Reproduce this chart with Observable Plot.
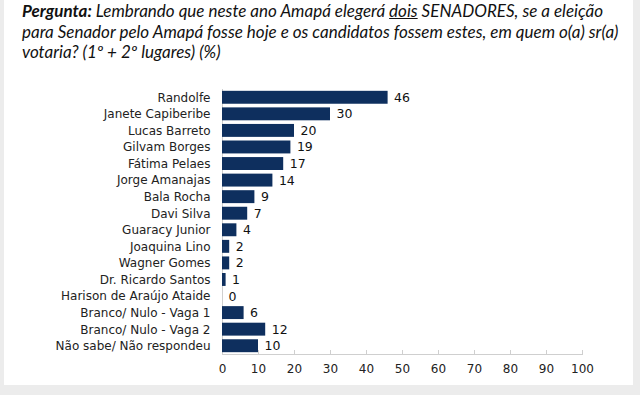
<!DOCTYPE html>
<html>
<head>
<meta charset="utf-8">
<script src="https://cdn.jsdelivr.net/npm/d3@7"></script>
<script src="https://cdn.jsdelivr.net/npm/@observablehq/plot@0.6"></script>
<style>
  html, body { margin: 0; padding: 0; background: #ececec; }
  #frame { position: absolute; left: 4px; top: 0; width: 629px; height: 385px; background: #fff; }
  #title { position: absolute; left: 18px; top: 1px; width: 620px; white-space: nowrap; font-family: Lato, "Open Sans", sans-serif; font-style: italic; font-size: 17px; line-height: 20.5px; color: #111; }
  #title b { font-weight: bold; }
  #title u { text-decoration: underline; }
  #chart { position: absolute; left: 0; top: 72px; }
</style>
</head>
<body>
<div id="frame">
  <div id="title"><b>Pergunta:</b> Lembrando que neste ano Amapá elegerá <u>dois</u> SENADORES, se a eleição<br>para Senador pelo Amapá fosse hoje e os candidatos fossem estes, em quem o(a) sr(a)<br>votaria? (1º + 2º lugares) (%)</div>
  <div id="chart"></div>
</div>
<script>
const candidates = ["Randolfe", "Janete Capiberibe", "Lucas Barreto", "Gilvam Borges", "Fátima Pelaes", "Jorge Amanajas", "Bala Rocha", "Davi Silva", "Guaracy Junior", "Joaquina Lino", "Wagner Gomes", "Dr. Ricardo Santos", "Harison de Araújo Ataide", "Branco/ Nulo - Vaga 1", "Branco/ Nulo - Vaga 2", "Não sabe/ Não respondeu"];
const values = [46, 30, 20, 19, 17, 14, 9, 7, 4, 2, 2, 1, 0, 6, 12, 10];
const xTicks = [0, 10, 20, 30, 40, 50, 60, 70, 80, 90, 100];

const data = candidates.map((c, i) => ({name: c, value: values[i]}));

const chart = Plot.plot({
  width: 629,
  height: 312,
  marginTop: 17,
  marginBottom: 30,
  marginLeft: 218,
  marginRight: 51,
  style: {fontFamily: "DejaVu Sans, Verdana, sans-serif", fontSize: "12px", color: "#222", background: "transparent"},
  x: {domain: [0, 100]},
  y: {domain: candidates, paddingInner: 0.22, paddingOuter: 0.11, round: false},
  marks: [
    Plot.frame({anchor: "bottom", stroke: "#cfcfcf"}),
    Plot.frame({anchor: "left", stroke: "#cfcfcf"}),
    Plot.axisX({ticks: xTicks, tickSize: -4, stroke: "#cfcfcf", tickPadding: 14, label: null, fill: "#222", fontSize: "12px"}),
    Plot.axisY({tickSize: 0, tickPadding: 12, label: null, fill: "#222", fontSize: "12px"}),
    Plot.barX(data, {x: "value", y: "name", fill: "#0e2f5e"}),
    Plot.text(data, {x: "value", y: "name", text: d => String(d.value), dx: 6, textAnchor: "start", fontSize: 12.5, fill: "#111"})
  ]
});
document.getElementById("chart").appendChild(chart);
</script>
</body>
</html>
